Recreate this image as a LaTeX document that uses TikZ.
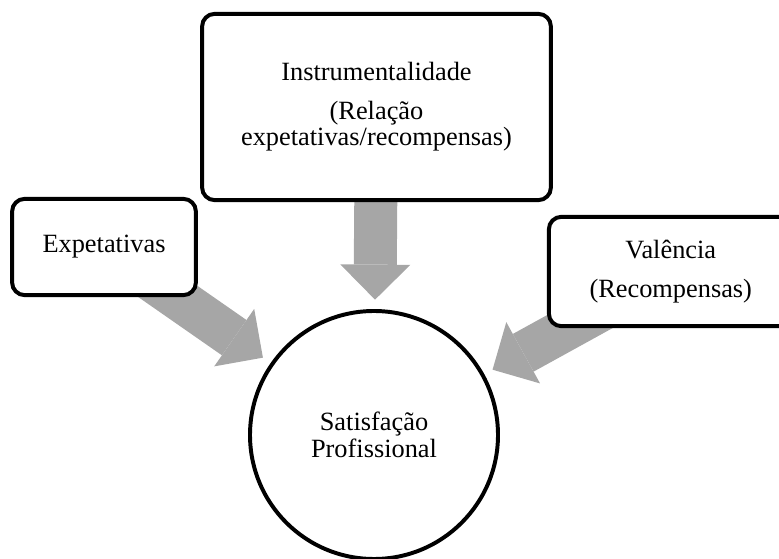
\documentclass[tikz,border=0pt]{standalone}
\usepackage{fontspec}
\setmainfont{Liberation Serif}
\usepackage{tikz}
\usetikzlibrary{shapes.geometric}
\usetikzlibrary{arrows.meta,backgrounds}

\tikzset{
  box/.style={draw, line width=1.8pt, rounded corners=0.2cm, fill=white, align=center, inner sep=0pt, font=\fontsize{12}{12}\selectfont},
  fatarrow/.style={draw=black!35, line width=0.688cm, -{Triangle[width=1.12cm, length=0.56cm, line width=0pt]}, shorten >=0.15cm}
}

\begin{document}
\begin{tikzpicture}
\useasboundingbox (0,0) rectangle (12.464,8.944);
\clip (0,0) rectangle (12.464,8.944);

\node [box, minimum width=5.58cm, minimum height=2.98cm] (instr) at (6.024,7.232) {Instrumentalidade\\[5.7pt](Relação\\expetativas/recompensas)};
\node [box, minimum width=2.94cm, minimum height=1.54cm] (expet) at (1.664,4.992) {Expetativas};
\node [box, minimum width=3.9cm, minimum height=1.75cm] (valen) at (10.732,4.6) {Valência\\[5.7pt](Recompensas)};
\node [circle, draw, line width=1.8pt, minimum size=3.968cm, align=center, font=\fontsize{12}{12}\selectfont] (sat) at (5.984,1.984) {Satisfação\\Profissional};

% arrows behind the boxes
\begin{scope}[on background layer]
\draw [fatarrow] (instr.center) -- (sat);
\draw [fatarrow] (expet.center) -- (sat);
\draw [fatarrow] (valen.center) -- (sat);
\end{scope}
\end{tikzpicture}
\end{document}
